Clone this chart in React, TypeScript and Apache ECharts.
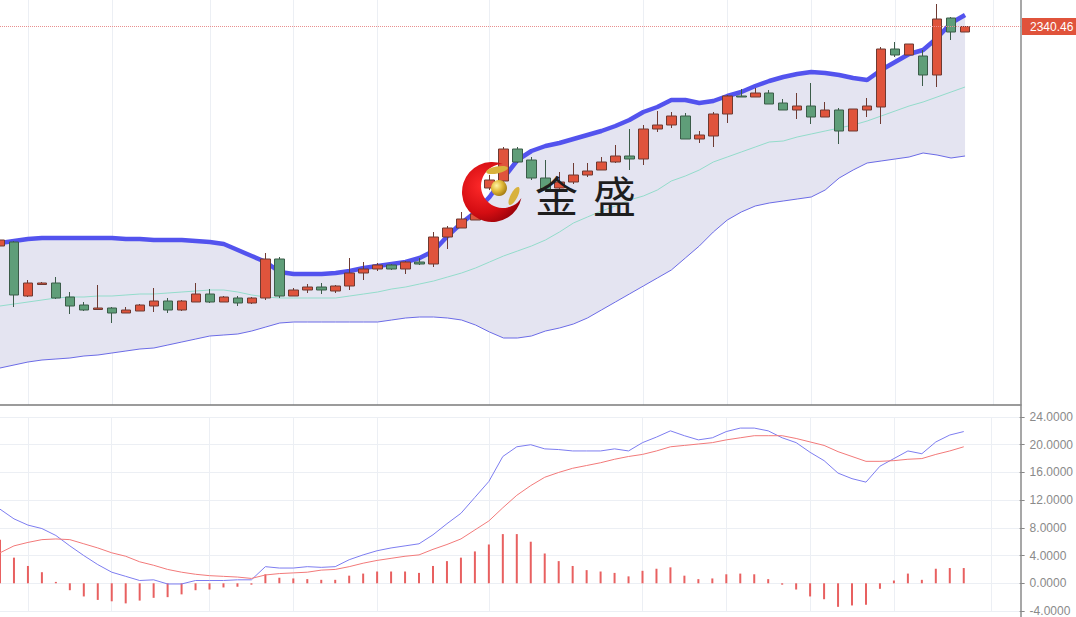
import React, { useEffect, useRef } from 'react';
import * as echarts from 'echarts';

// 74 category slots: 70 trading days drawn + 4 empty slots on the right
const categories = Array.from({ length: 74 }, (_, i) => `D${i + 1}`);

// [open, close, low, high]
const candles = [
  [2121, 2127, 2119, 2129], [2125, 2072, 2060, 2126], [2071, 2084, 2070, 2087], [2082.5, 2084, 2082, 2085],
  [2084, 2069, 2068, 2090], [2070, 2061, 2053, 2075], [2062, 2057, 2056, 2065], [2057.5, 2059, 2057, 2082],
  [2059, 2054, 2044, 2060], [2054, 2057, 2054, 2060], [2056, 2062, 2056, 2063], [2061, 2066, 2055, 2079],
  [2066, 2057, 2054, 2069], [2057, 2066, 2056, 2067], [2065, 2073, 2065, 2084], [2073, 2065, 2064, 2078],
  [2065, 2070, 2065, 2071], [2069, 2064, 2061, 2071], [2064, 2069, 2063, 2070], [2069, 2108, 2067, 2114],
  [2108, 2071, 2069, 2110], [2071, 2077, 2071, 2079], [2077, 2080, 2074, 2083], [2080, 2077, 2073, 2084],
  [2076, 2081, 2074, 2082], [2081, 2094, 2077, 2109], [2094, 2098, 2087, 2105], [2098, 2102, 2096, 2104],
  [2102, 2098, 2097, 2103], [2098, 2105, 2093, 2106], [2105, 2103, 2102, 2109], [2103, 2130, 2100, 2135],
  [2130, 2139, 2118, 2141], [2139, 2148, 2139, 2155], [2147, 2153, 2147, 2157], [2179, 2187, 2177, 2192],
  [2186, 2218, 2184, 2220], [2218, 2205, 2204, 2220], [2207, 2189, 2187, 2210], [2189, 2177, 2175, 2207],
  [2179, 2185, 2177, 2195], [2185, 2192, 2183, 2204], [2192, 2196, 2190, 2204], [2197, 2205, 2197, 2210],
  [2205, 2211, 2204, 2222], [2211, 2208, 2197, 2238], [2208, 2238, 2202, 2242], [2238, 2242, 2235, 2256],
  [2242, 2251, 2239, 2255], [2251, 2228, 2228, 2254], [2228, 2232, 2224, 2236], [2231, 2253, 2220, 2255],
  [2253, 2271, 2244, 2272], [2271, 2270, 2270, 2278], [2270, 2274, 2270, 2279], [2274, 2263, 2263, 2277],
  [2264, 2257, 2257, 2268], [2257, 2261, 2248, 2274], [2261, 2250, 2243, 2284], [2250, 2257, 2250, 2265],
  [2257, 2236, 2223, 2259], [2236, 2258, 2236, 2258], [2257, 2261, 2250, 2269], [2260, 2318, 2243, 2320],
  [2318, 2312, 2310, 2325], [2312, 2323, 2312, 2323], [2311, 2292, 2281, 2317], [2292, 2348, 2280, 2363],
  [2349, 2335, 2327, 2350], [2335, 2340.46, 2335, 2341],
];

const bollUpper = [
  2124, 2126, 2128, 2129, 2129, 2129, 2129, 2129, 2129, 2128,
  2128, 2127, 2127, 2127, 2126, 2125, 2123, 2117, 2111, 2105,
  2095, 2093, 2093, 2093, 2094, 2096, 2099, 2101, 2103, 2105,
  2109, 2116, 2131, 2144, 2155, 2170, 2189, 2207, 2216, 2221,
  2224, 2228, 2232, 2236, 2241, 2247, 2255, 2260, 2267, 2267,
  2264, 2266, 2271, 2275, 2281, 2286, 2290, 2293, 2295, 2294,
  2292, 2289, 2287, 2297, 2305, 2313, 2317, 2329, 2344, 2352,
];
const bollMid = [
  2061, 2063, 2065, 2067, 2069, 2070, 2070, 2071, 2071, 2072,
  2073, 2073, 2074, 2075, 2076, 2077, 2077, 2075, 2072, 2070,
  2069, 2069, 2069, 2069, 2069, 2071, 2073, 2075, 2078, 2080,
  2083, 2086, 2090, 2094, 2099, 2105, 2111, 2116, 2121, 2127,
  2135, 2144, 2150, 2156, 2161, 2167, 2171, 2177, 2186, 2191,
  2197, 2205, 2210, 2215, 2220, 2225, 2226, 2230, 2233, 2236,
  2239, 2242, 2246, 2251, 2256, 2261, 2265, 2270, 2275, 2280,
];
const bollLower = [
  1999, 2002, 2005, 2007, 2008, 2009, 2011, 2012, 2014, 2016,
  2018, 2019, 2022, 2025, 2028, 2031, 2032, 2033, 2036, 2040,
  2044, 2045, 2045, 2045, 2045, 2045, 2045, 2045, 2047, 2049,
  2050, 2050, 2049, 2047, 2042, 2035, 2029, 2029, 2031, 2036,
  2039, 2043, 2049, 2057, 2065, 2073, 2081, 2089, 2097, 2109,
  2121, 2135, 2147, 2155, 2161, 2164, 2166, 2168, 2170, 2177,
  2189, 2197, 2204, 2206, 2208, 2210, 2214, 2212, 2209, 2211,
];

const dif = [
  10.7, 9.3, 8.4, 7.9, 6.9, 5.4, 4.0, 2.7, 1.6, 1.0,
  0.4, 0.5, -0.1, -0.1, 0.4, 0.4, 0.4, 0.5, 0.5, 2.4,
  2.2, 2.2, 2.4, 2.3, 2.4, 3.4, 4.1, 4.7, 5.1, 5.4,
  5.7, 7.0, 8.6, 10.1, 12.4, 14.7, 18.3, 19.7, 20.0, 19.4,
  19.3, 19.1, 19.1, 19.1, 19.4, 19.1, 20.3, 21.1, 22.0, 21.3,
  20.7, 21.0, 21.9, 22.4, 22.4, 22.0, 21.0, 20.3, 18.9, 17.7,
  15.9, 15.1, 14.6, 16.9, 18.0, 19.1, 18.7, 20.4, 21.4, 21.9,
];
const dea = [
  4.4, 5.4, 5.9, 6.3, 6.4, 6.3, 5.7, 5.1, 4.4, 3.9,
  3.1, 2.6, 2.0, 1.6, 1.3, 1.1, 1.0, 0.9, 0.7, 1.2,
  1.4, 1.5, 1.6, 1.9, 2.0, 2.4, 2.9, 3.3, 3.6, 3.9,
  4.1, 4.9, 5.6, 6.4, 7.7, 9.0, 10.9, 12.7, 14.1, 15.3,
  16.0, 16.6, 17.0, 17.4, 17.9, 18.3, 18.6, 19.1, 19.7, 19.9,
  20.1, 20.3, 20.7, 21.0, 21.3, 21.3, 21.3, 20.9, 20.4, 19.9,
  19.0, 18.3, 17.6, 17.6, 17.7, 17.9, 18.0, 18.6, 19.1, 19.7,
];
const macdHist = [
  6.3, 3.7, 2.5, 1.6, 0.2, -1.0, -1.9, -2.4, -2.6, -2.9,
  -2.5, -2.1, -2.0, -1.6, -1.0, -0.9, -0.6, -0.5, -0.2, 1.3,
  0.8, 0.7, 0.6, 0.5, 0.5, 1.1, 1.4, 1.7, 1.7, 1.7,
  1.5, 2.5, 3.2, 3.7, 4.6, 5.6, 7.1, 7.1, 6.0, 4.3,
  3.2, 2.5, 1.9, 1.7, 1.5, 1.0, 1.8, 2.1, 2.3, 1.1,
  0.6, 0.7, 1.3, 1.4, 1.3, 0.6, -0.2, -0.9, -1.9, -2.3,
  -3.4, -3.2, -3.1, -0.8, 0.4, 1.4, 0.5, 2.1, 2.2, 2.2,
];

const splitIdx = [2, 8, 15, 21, 27, 35, 46, 52, 58, 64, 71];
const lastPrice = 2340.46;
const macdMin = -4;
const macdMax = 24;
const macdStep = 4;

const crescentD = 'M10.78 -28 A30 30 0 1 0 29.38 6.1 A22 22 0 1 1 10.78 -28 Z';
let registered = false;
function ensureShape() {
  if (registered) return;
  echarts.graphic.registerShape('logo', echarts.graphic.extendPath(crescentD, {}));
  registered = true;
}

export default function App() {
  const ref = useRef<HTMLDivElement>(null);
  useEffect(() => {
    if (!ref.current) return;
    ensureShape();
    const chart = echarts.init(ref.current, undefined, { renderer: 'svg' });
    const bandWidth = bollUpper.map((u, i) => +(u - bollLower[i]).toFixed(2));
    const splitFn = (idx: number) => splitIdx.indexOf(idx) >= 0;
    const gridLineColor = '#eceff4';
    const cjkFont = '"Noto Sans CJK SC", sans-serif';

    chart.setOption({
      animation: false,
      textStyle: { fontFamily: 'Liberation Sans, Arial, sans-serif' },
      grid: [
        { left: -3, right: 55, top: 0, height: 405, containLabel: false },
        { left: -3, right: 55, top: 417, height: 197, containLabel: false },
      ],
      xAxis: [
        {
          type: 'category', gridIndex: 0, data: categories, boundaryGap: false,
          axisLine: { show: true, onZero: false, lineStyle: { color: '#7a7a7a', width: 1.5 } },
          axisTick: { show: false }, axisLabel: { show: false },
          splitLine: { show: true, interval: splitFn, lineStyle: { color: gridLineColor, width: 1 } },
        },
        {
          type: 'category', gridIndex: 1, data: categories, boundaryGap: false,
          axisLine: { show: false }, axisTick: { show: false }, axisLabel: { show: false },
          splitLine: { show: true, interval: splitFn, lineStyle: { color: gridLineColor, width: 1 } },
        },
      ],
      yAxis: [
        {
          type: 'value', gridIndex: 0, position: 'right', min: 1962, max: 2367, scale: true,
          axisLine: { show: false }, axisTick: { show: false }, axisLabel: { show: false },
          splitLine: { show: false },
        },
        {
          type: 'value', gridIndex: 1, position: 'right', min: macdMin, max: macdMax, interval: macdStep,
          axisLine: { show: false },
          axisTick: { show: true, length: 5, lineStyle: { color: '#888' } },
          axisLabel: {
            show: true, color: '#8a8a8a', fontSize: 12, margin: 10,
            fontFamily: 'Liberation Sans, Arial, sans-serif',
            formatter: (v: number) => v.toFixed(4),
          },
          splitLine: { show: true, lineStyle: { color: gridLineColor, width: 1 } },
        },
      ],
      series: [
        {
          name: 'bollBase', type: 'line', xAxisIndex: 0, yAxisIndex: 0, data: bollLower,
          stack: 'boll', symbol: 'none', silent: true, lineStyle: { width: 0, opacity: 0 }, z: 1,
        },
        {
          name: 'bollBand', type: 'line', xAxisIndex: 0, yAxisIndex: 0, data: bandWidth,
          stack: 'boll', symbol: 'none', silent: true, lineStyle: { width: 0, opacity: 0 },
          areaStyle: { color: '#e4e4f1', opacity: 1 }, z: 1,
        },
        {
          name: 'LOWER', type: 'line', xAxisIndex: 0, yAxisIndex: 0, data: bollLower,
          symbol: 'none', silent: true, lineStyle: { color: '#6b6be6', width: 1 }, z: 2,
        },
        {
          name: 'MID', type: 'line', xAxisIndex: 0, yAxisIndex: 0, data: bollMid,
          symbol: 'none', silent: true, lineStyle: { color: '#93dccb', width: 1 }, z: 2,
        },
        {
          name: 'UPPER', type: 'line', xAxisIndex: 0, yAxisIndex: 0, data: bollUpper,
          symbol: 'none', silent: true, lineStyle: { color: '#5353ee', width: 4.5 }, z: 2,
        },
        {
          name: 'K', type: 'candlestick', xAxisIndex: 0, yAxisIndex: 0, data: candles,
          barWidth: 10, z: 3,
          itemStyle: {
            color: '#e0543c', color0: '#5f9e79',
            borderColor: '#6e3a32', borderColor0: '#3b5c49', borderWidth: 1,
          },
          markLine: {
            silent: true, symbol: ['none', 'none'],
            data: [{ yAxis: lastPrice }],
            lineStyle: { color: '#e88f8f', type: 'dotted', width: 1 },
            label: {
              show: true, position: 'end', distance: 1,
              formatter: lastPrice.toFixed(2),
              color: '#ffffff', backgroundColor: '#e0533b',
              padding: [3, 3, 2, 8], fontSize: 12,
              fontFamily: 'Liberation Sans, Arial, sans-serif',
            },
          },
        },
        {
          name: 'DIF', type: 'line', xAxisIndex: 1, yAxisIndex: 1, data: dif,
          symbol: 'none', silent: true, lineStyle: { color: '#7d7df0', width: 1 }, z: 3,
        },
        {
          name: 'DEA', type: 'line', xAxisIndex: 1, yAxisIndex: 1, data: dea,
          symbol: 'none', silent: true, lineStyle: { color: '#f27a7a', width: 1 }, z: 3,
        },
        {
          name: 'MACD', type: 'bar', xAxisIndex: 1, yAxisIndex: 1, data: macdHist,
          barWidth: 2, silent: true, itemStyle: { color: '#e86060' }, z: 2,
        },
      ],
      graphic: [
        {
          type: 'line', z: 50, silent: true,
          shape: { x1: 1021, y1: 0, x2: 1021, y2: 617 },
          style: { stroke: '#8a8a8a', lineWidth: 1.5 },
        },
        {
          type: 'logo', x: 492, y: 192, z: 60, silent: true,
          style: {
            fill: new echarts.graphic.RadialGradient(0.35, 0.4, 0.75, [
              { offset: 0, color: '#ff2a2a' },
              { offset: 0.6, color: '#d40d12' },
              { offset: 1, color: '#8c0008' },
            ]),
          },
        },
        {
          type: 'ellipse', x: 497, y: 170, rotation: 0.2, z: 61, silent: true,
          shape: { cx: 0, cy: 0, rx: 11, ry: 3.5 },
          style: { fill: '#d8b23c' },
        },
        {
          type: 'ellipse', x: 514, y: 196, rotation: 1.1, z: 61, silent: true,
          shape: { cx: 0, cy: 0, rx: 10, ry: 3.5 },
          style: { fill: '#d8b23c' },
        },
        {
          type: 'circle', z: 62, silent: true,
          shape: { cx: 499, cy: 188, r: 8 },
          style: {
            fill: new echarts.graphic.RadialGradient(0.35, 0.35, 0.7, [
              { offset: 0, color: '#fff3a8' },
              { offset: 0.5, color: '#e2bb3a' },
              { offset: 1, color: '#a37a12' },
            ]),
          },
        },
        {
          type: 'text', x: 535, y: 194, z: 62, silent: true,
          style: {
            text: '金', fontSize: 43, fontFamily: cjkFont,
            fill: '#1e1e1e', verticalAlign: 'middle', align: 'left',
          },
        },
        {
          type: 'text', x: 593, y: 194, z: 62, silent: true,
          style: {
            text: '盛', fontSize: 43, fontFamily: cjkFont,
            fill: '#1e1e1e', verticalAlign: 'middle', align: 'left',
          },
        },
      ],
    });
    return () => chart.dispose();
  }, []);

  return (
    <div
      ref={ref}
      style={{ position: 'fixed', left: 0, top: 0, width: 1076, height: 617, background: '#ffffff' }}
    />
  );
}
